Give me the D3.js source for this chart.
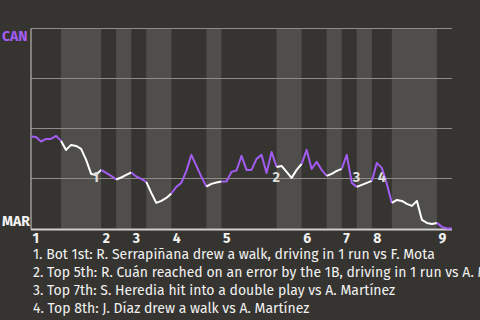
<!DOCTYPE html>
<html>
<head>
<meta charset="utf-8">
<script src="https://cdn.jsdelivr.net/npm/d3@7"></script>
<style>
  html, body { margin: 0; padding: 0; background: #353430; overflow: hidden; }
  svg { display: block; }
</style>
</head>
<body>
<div id="chart"></div>
<script>
const WIDTH = 480;
const HEIGHT = 320;
const PLOT = {left: 31, right: 452, top: 28.5, bottom: 228.5};

const BG_COLOR = "#353430";
const BAND_COLOR = "#4f4e4b";
const AWAY_COLOR = "#a35cf2";
const HOME_COLOR = "#ffffff";

// teams
const AWAY_TEAM = "CAN";
const HOME_TEAM = "MAR";

// inning labels
const innings = ["1", "2", "3", "4", "5", "6", "7", "8", "9"];

// event index where each half inning starts (top 1, bot 1, top 2, ...)
const halfStarts = [0, 6, 14, 17, 20, 23, 28, 35, 38, 49, 54, 59, 62, 65, 68, 72, 81];
const N_EVENTS = 84;

// CAN win probability (%) after each event
const winProb = [
  46, 45.8, 43.5, 44.8, 44.8, 46.3, 43.8, 39.3, 41.8, 41.3,
  39.8, 34.3, 27.3, 26.8, 29.3, 27.8, 26.3, 24.5, 25.5, 26.8,
  28, 26, 24.8, 23.3, 17.8, 12.8, 13.8, 15.3, 17.5, 20.8,
  22.8, 28.8, 36.8, 31.3, 25.8, 21, 22.3, 23, 23.5, 23.5,
  28.3, 29, 36.3, 29.3, 29.3, 34.8, 36.8, 27.8, 38.3, 30.8,
  31.3, 28.3, 25.3, 29.3, 32.3, 39.3, 29.8, 33.3, 29.3, 26.3,
  27.3, 28.8, 29.8, 36.8, 22.8, 20.8, 21.8, 22.8, 23.8, 32.8,
  30.3, 22.3, 12.8, 14.3, 13.8, 12.3, 11.3, 13.8, 4.3, 2.8,
  2.3, 2.8, 0.8, 0, 0
];

// key plays: marker number and event index
const noteNums = ["1", "2", "3", "4"];
const noteIdx = [12, 48, 64, 69];
const noteText = [
  "1. Bot 1st: R. Serrapiñana drew a walk, driving in 1 run vs F. Mota",
  "2. Top 5th: R. Cuán reached on an error by the 1B, driving in 1 run vs A. Martínez",
  "3. Top 7th: S. Heredia hit into a double play vs A. Martínez",
  "4. Top 8th: J. Díaz drew a walk vs A. Martínez"
];

const gridVals = [25, 50, 75, 100];

const FONT = "'Fira Sans', Roboto, 'Noto Sans', sans-serif";

const svg = d3.select("#chart")
  .append("svg")
    .attr("width", WIDTH)
    .attr("height", HEIGHT);

svg.append("rect")
  .attr("width", WIDTH)
  .attr("height", HEIGHT)
  .attr("fill", BG_COLOR);

const X_SCALE = d3.scaleLinear()
  .domain([0, N_EVENTS])
  .range([PLOT.left, PLOT.right]);

const Y_SCALE = d3.scaleLinear()
  .domain([0, 100])
  .range([PLOT.bottom, PLOT.top]);

// half inning spans
const halves = halfStarts.map((s, i) => ({
  start: s,
  end: i + 1 < halfStarts.length ? halfStarts[i + 1] : N_EVENTS,
  top: i % 2 === 0
}));

// shaded bands for bottom halves
svg.selectAll("rect.band")
  .data(halves.filter(d => !d.top))
  .enter()
  .append("rect")
    .attr("class", "band")
    .attr("x", d => X_SCALE(d.start))
    .attr("y", PLOT.top)
    .attr("width", d => X_SCALE(d.end) - X_SCALE(d.start))
    .attr("height", PLOT.bottom - PLOT.top)
    .attr("fill", BAND_COLOR);

// gridlines
svg.selectAll("line.grid")
  .data(gridVals)
  .enter()
  .append("line")
    .attr("x1", PLOT.left)
    .attr("x2", PLOT.right)
    .attr("y1", d => Y_SCALE(d))
    .attr("y2", d => Y_SCALE(d))
    .attr("stroke", "#8d8c88")
    .attr("stroke-width", 1.2);

// axis lines
svg.append("line")
  .attr("x1", PLOT.left).attr("x2", PLOT.left)
  .attr("y1", Y_SCALE(100)).attr("y2", Y_SCALE(0) + 1)
  .attr("stroke", "#b5b4b0")
  .attr("stroke-width", 1.2);

svg.append("line")
  .attr("x1", PLOT.left).attr("x2", PLOT.right)
  .attr("y1", Y_SCALE(0) + 1).attr("y2", Y_SCALE(0) + 1)
  .attr("stroke", "#d0cfcb")
  .attr("stroke-width", 2);

// win probability line, coloured by who is batting
const line = d3.line()
  .x(d => X_SCALE(d.i))
  .y(d => Y_SCALE(d.p));

svg.selectAll("path.wp")
  .data(halves)
  .enter()
  .append("path")
    .attr("class", "wp")
    .attr("d", h => line(d3.range(h.start, h.end + 1).map(i => ({i: i, p: winProb[i]}))))
    .attr("fill", "none")
    .attr("stroke", h => h.top ? AWAY_COLOR : HOME_COLOR)
    .attr("stroke-width", 2)
    .attr("stroke-linejoin", "round");

// key play markers
svg.selectAll("text.note")
  .data(noteNums)
  .enter()
  .append("text")
    .attr("x", (d, i) => X_SCALE(noteIdx[i]) + 1)
    .attr("y", Y_SCALE(25) + 3)
    .attr("font-family", FONT)
    .attr("font-weight", "bold")
    .attr("font-size", "14.5px")
    .attr("fill", "#dddcd8")
    .text(d => d);

// team labels
svg.append("text")
  .attr("x", 2).attr("y", 40.5)
  .attr("font-family", FONT)
  .attr("font-weight", "bold")
  .attr("font-size", "14px")
  .attr("fill", AWAY_COLOR)
  .text(AWAY_TEAM);

svg.append("text")
  .attr("x", 2).attr("y", 226)
  .attr("font-family", FONT)
  .attr("font-weight", "bold")
  .attr("font-size", "14px")
  .attr("fill", "#f2f2f2")
  .text(HOME_TEAM);

// inning numbers
svg.selectAll("text.inning")
  .data(innings)
  .enter()
  .append("text")
    .attr("x", (d, i) => X_SCALE(halfStarts[i * 2]) + 1.5)
    .attr("y", 242.5)
    .attr("font-family", FONT)
    .attr("font-weight", "bold")
    .attr("font-size", "14px")
    .attr("fill", "#f2f2f2")
    .text(d => d);

// key play descriptions
svg.selectAll("text.desc")
  .data(noteText)
  .enter()
  .append("text")
    .attr("x", 33)
    .attr("y", (d, i) => 259 + i * 18)
    .attr("font-family", FONT)
    .attr("font-size", "14px")
    .attr("fill", "#f2f2f2")
    .text(d => d);
</script>
</body>
</html>
